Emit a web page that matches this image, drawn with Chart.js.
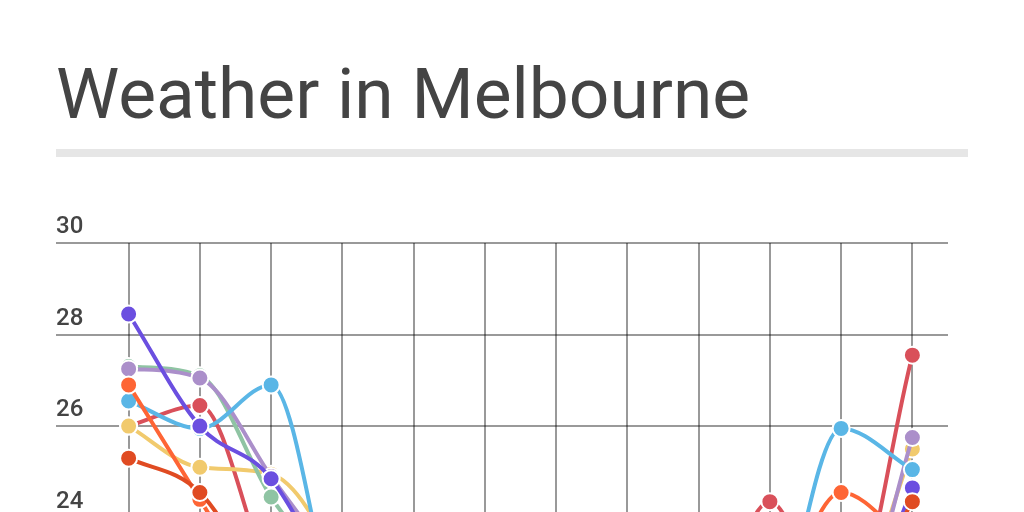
<!DOCTYPE html>
<html>
<head>
<meta charset="utf-8">
<script src="https://cdn.jsdelivr.net/npm/chart.js@4.4.1/dist/chart.umd.min.js"></script>
<style>
  html, body { margin: 0; padding: 0; background: #ffffff; overflow: hidden; }
  #title { position: absolute; left: 56px; top: 59px; margin: 0; font-family: Roboto, sans-serif; font-weight: 400; font-size: 71.3px; line-height: 70px; color: #444444; white-space: nowrap; }
  #bar { position: absolute; left: 56px; top: 149px; width: 912px; height: 8px; background: #e6e6e6; }
  #wrap { position: absolute; left: 56px; top: 200px; width: 912px; height: 927px; }
</style>
</head>
<body>
<h1 id="title">Weather in Melbourne</h1>
<div id="bar"></div>
<div id="wrap"><canvas id="c"></canvas></div>
<script>
const months = ['Jan','Feb','Mar','Apr','May','Jun','Jul','Aug','Sep','Oct','Nov','Dec'];
const seriesNames = ['2010','2011','2012','2013','2014','2015','2016','2017'];
const darkOrange = [25.3, 24.55, 22.2, 20.4, 17.6, 14.9, 14.2, 15.3, 17.4, 19.8, 21.6, 24.35];
const orange     = [26.9, 24.4, 21.9, 20.2, 17.2, 14.6, 13.9, 15.0, 17.0, 21.3, 24.55, 23.4];
const purple     = [28.45, 26.0, 24.85, 22.0, 18.5, 15.5, 14.5, 15.8, 17.8, 19.5, 20.8, 24.65];
const blue       = [26.55, 25.95, 26.9, 21.2, 18.2, 15.0, 14.3, 15.6, 17.6, 20.8, 25.95, 25.05];
const lavender   = [27.25, 27.05, 24.9, 22.6, 19.0, 15.8, 14.8, 16.0, 18.0, 19.8, 20.6, 25.75];
const green      = [27.3, 27.1, 24.45, 22.3, 18.8, 15.6, 14.6, 15.9, 17.9, 20.2, 21.0, 23.2];
const yellow     = [26.0, 25.1, 24.95, 22.8, 18.6, 15.3, 14.4, 15.7, 17.7, 20.0, 21.2, 25.5];
const red        = [26.0, 26.45, 22.6, 20.0, 17.0, 14.4, 13.8, 14.9, 20.3, 24.35, 21.5, 27.55];
const yTicks = { min: 12, max: 30, step: 2 };

const seriesData = [darkOrange, orange, purple, blue, lavender, green, yellow, red];
const colors = ['#e04b22', '#fe6535', '#6b4fe0', '#5ab6e6', '#ab8fca', '#8fc4a3', '#f1ca6d', '#d9505a'];

const datasets = seriesData.map((d, i) => ({
  label: seriesNames[i],
  data: d,
  borderColor: colors[i],
  backgroundColor: colors[i],
  pointBackgroundColor: colors[i],
  pointBorderColor: '#ffffff',
  pointBorderWidth: 2,
  pointRadius: 8.5,
  borderWidth: 4,
  cubicInterpolationMode: 'monotone',
  tension: 0.4,
  fill: false
}));

new Chart(document.getElementById('c'), {
  type: 'line',
  data: { labels: months, datasets },
  options: {
    responsive: true,
    maintainAspectRatio: false,
    animation: false,
    layout: { padding: { top: 43, right: 20, left: 0, bottom: 0 } },
    plugins: { legend: { display: false }, tooltip: { enabled: false } },
    scales: {
      x: {
        offset: true,
        grid: { offset: false, color: 'rgba(0,0,0,0.4)', lineWidth: 2, drawTicks: false },
        border: { display: false },
        ticks: { color: '#444444', font: { family: 'Roboto', size: 24, weight: '500' }, padding: 14 },
        afterFit: (s) => { s.height = 60; }
      },
      y: {
        min: yTicks.min,
        max: yTicks.max,
        grid: { color: 'rgba(0,0,0,0.4)', lineWidth: 2, drawTicks: true, tickLength: 37, tickColor: 'rgba(0,0,0,0.4)' },
        border: { display: false },
        ticks: {
          stepSize: yTicks.step,
          color: '#444444',
          font: { family: 'Roboto', size: 24, weight: '500' },
          crossAlign: 'far',
          labelOffset: -16,
          padding: 0
        },
        afterFit: (s) => { s.width = 37; }
      }
    }
  }
});
</script>
</body>
</html>
